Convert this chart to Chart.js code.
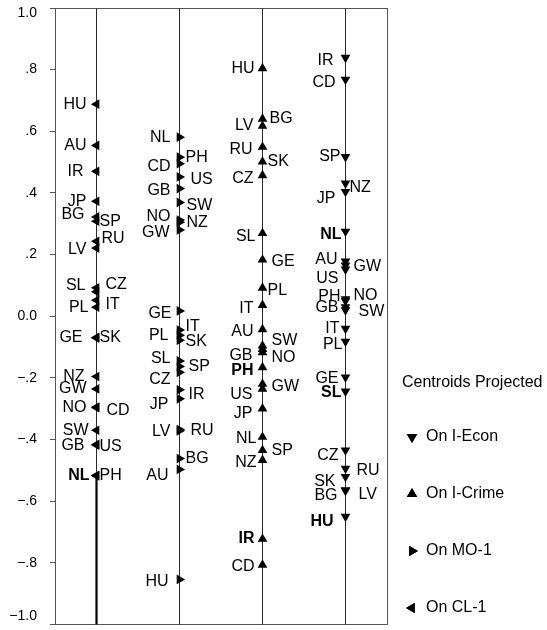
<!DOCTYPE html>
<html>
<head>
<meta charset="utf-8">
<script src="https://cdn.jsdelivr.net/npm/chart.js@4.4.1/dist/chart.umd.min.js"></script>
<style>
  html, body { margin: 0; padding: 0; background: #fff; overflow: hidden; }
  #chart { display: block; }
</style>
</head>
<body>
<canvas id="chart" width="547" height="630" style="width:547px;height:630px"></canvas>
<script>
// Four projection axes, left to right
const columns = ['CL-1', 'MO-1', 'I-Crime', 'I-Econ'];
const legendNames = ['On CL-1', 'On MO-1', 'On I-Crime', 'On I-Econ'];
const legendTitle = 'Centroids Projected';

const yTicks = [1.0, 0.8, 0.6, 0.4, 0.2, 0.0, -0.2, -0.4, -0.6, -0.8, -1.0];
const yTickLabels = ['1.0', '.8', '.6', '.4', '.2', '0.0', '\u2212.2', '\u2212.4', '\u2212.6', '\u2212.8', '\u22121.0'];

// CL-1
const clCodes = ['HU', 'AU', 'IR', 'JP', 'BG', 'SP', 'RU', 'LV', 'SL', 'CZ', 'IT', 'PL', 'GE', 'SK', 'NZ', 'GW', 'NO', 'CD', 'SW', 'GB', 'US', 'NL', 'PH'];
const clValues = [0.688, 0.554, 0.470, 0.373, 0.322, 0.308, 0.243, 0.221, 0.092, 0.079, 0.052, 0.029, -0.069, -0.071, -0.196, -0.236, -0.295, -0.297, -0.370, -0.416, -0.418, -0.516, -0.518];
const clBold = ['NL'];

// MO-1
const moCodes = ['NL', 'PH', 'CD', 'US', 'GB', 'SW', 'NO', 'NZ', 'GW', 'GE', 'IT', 'PL', 'SK', 'SL', 'SP', 'CZ', 'IR', 'JP', 'LV', 'RU', 'BG', 'AU', 'HU'];
const moValues = [0.581, 0.516, 0.495, 0.452, 0.414, 0.369, 0.312, 0.305, 0.280, 0.017, -0.045, -0.062, -0.078, -0.145, -0.163, -0.182, -0.239, -0.268, -0.368, -0.372, -0.462, -0.497, -0.854];
const moBold = [];

// I-Crime
const crimeCodes = ['HU', 'BG', 'LV', 'RU', 'SK', 'CZ', 'SL', 'GE', 'PL', 'IT', 'AU', 'SW', 'GB', 'NO', 'PH', 'GW', 'US', 'JP', 'NL', 'SP', 'NZ', 'IR', 'CD'];
const crimeValues = [0.804, 0.640, 0.617, 0.549, 0.501, 0.457, 0.269, 0.183, 0.092, 0.036, -0.043, -0.096, -0.107, -0.118, -0.166, -0.220, -0.236, -0.300, -0.392, -0.435, -0.467, -0.723, -0.807];
const crimeBold = ['PH', 'IR'];

// I-Econ
const econCodes = ['IR', 'CD', 'SP', 'NZ', 'JP', 'NL', 'AU', 'GW', 'US', 'PH', 'NO', 'GB', 'SW', 'IT', 'PL', 'GE', 'SL', 'CZ', 'RU', 'SK', 'BG', 'LV', 'HU'];
const econValues = [0.839, 0.768, 0.517, 0.431, 0.404, 0.275, 0.178, 0.165, 0.152, 0.056, 0.050, 0.030, 0.020, -0.040, -0.082, -0.198, -0.244, -0.435, -0.494, -0.521, -0.564, -0.566, -0.650];
const econBold = ['NL', 'SL', 'HU'];

// label placement next to each marker (negative dx = text on the left)
const clDx = [-10, -10, -13, -10, -12, 3, 5, -10, -11, 9, 9, -8, -14, 3, -12, -10, -10, 10, -8, -12, 3, -7, 3];
const clDy = [0, 0, 0, 0, -2, 0, -3, 2, -2, -7, 4, 0, 0, 0, 0, 0, 0, 3, 0, 1, 2, 0, 0];
const moDx = [-9, 6, -9, 11, -9, 7, -9, 7, -10, -8, 6, -11, 6, -9, 9, -9, 9, -11, -9, 11, 6, -11, -11];
const moDy = [0, 0, 3, 3, 2, 3, -3, 0, 3, 3, -3, 0, 1, -2, 0, 7, 5, 6, 2, 0, 0, 6, 2];
const crimeDx = [-8, 7, -9, -10, 5, -9, -7, 9, 5, -9, -9, 9, -10, 9, -9, 9, -10, -10, -6, 9, -6, -8, -8];
const crimeDy = [0, 0, 0, 3, 0, 3, 3, 2, 3, 3, 2, -5, 6, 5, 3, 3, 6, 5, 2, 0, 2, 0, 2];
const econDx = [-12, -10, -5, 4, -10, -4, -8, 8, -7, -5, 8, -7, 13, -6, -3, -7, -4, -7, 11, -10, -8, 13, -12];
const econDy = [3, 3, 0, 4, 7, 3, -2, 1, 9, -2, -5, 1, 2, 0, 3, 1, 1, 5, 2, 5, 6, 4, 5];

const FONT = '"Liberation Sans", Arial, Helvetica, sans-serif';

const groups = [
  { codes: clCodes, values: clValues, bold: clBold, dx: clDx, dy: clDy, rotation: 270 },
  { codes: moCodes, values: moValues, bold: moBold, dx: moDx, dy: moDy, rotation: 90 },
  { codes: crimeCodes, values: crimeValues, bold: crimeBold, dx: crimeDx, dy: crimeDy, rotation: 0 },
  { codes: econCodes, values: econValues, bold: econBold, dx: econDx, dy: econDy, rotation: 180 },
];

const pointSets = groups.map((g, k) => ({
  label: legendNames[k],
  data: g.values.map(v => ({ x: columns[k], y: v })),
  showLine: false,
  pointStyle: 'triangle',
  rotation: g.rotation,
  pointRadius: 5.6,
  pointBackgroundColor: '#000',
  pointBorderColor: '#000',
  pointBorderWidth: 0,
  order: 0,
}));

// the vertical axis line of every projection
const lineSets = columns.map(c => ({
  label: 'axis ' + c,
  data: [{ x: c, y: 1 }, { x: c, y: -1 }],
  showLine: true,
  borderColor: '#2a2a2a',
  borderWidth: 1,
  pointRadius: 0,
  order: 2,
}));
// CL-1 line is drawn heavier below NL
const nlLow = clValues[clCodes.indexOf('NL')];
lineSets.push({
  label: 'axis CL-1 low',
  data: [{ x: columns[0], y: nlLow }, { x: columns[0], y: -1 }],
  showLine: true,
  borderColor: '#000',
  borderWidth: 2.2,
  pointRadius: 0,
  order: 1,
});

const framePlugin = {
  id: 'frame',
  beforeDatasetsDraw(chart) {
    const { ctx, chartArea: a } = chart;
    ctx.save();
    ctx.strokeStyle = '#555';
    ctx.lineWidth = 1;
    ctx.strokeRect(Math.round(a.left) + 0.5, Math.round(a.top) + 0.5, Math.round(a.right - a.left), Math.round(a.bottom - a.top));
    ctx.restore();
  }
};

const yLabelPlugin = {
  id: 'yLabels',
  afterDraw(chart) {
    const { ctx, chartArea: a } = chart;
    const y = chart.scales.y;
    ctx.save();
    ctx.font = '14px ' + FONT;
    ctx.fillStyle = '#000';
    ctx.textAlign = 'right';
    ctx.textBaseline = 'middle';
    yTicks.forEach((v, i) => {
      let py = y.getPixelForValue(v);
      py = Math.min(Math.max(py, a.top + 5), a.bottom - 8);
      ctx.fillText(yTickLabels[i], a.left - 18, py);
    });
    ctx.restore();
  }
};

const pointLabelPlugin = {
  id: 'pointLabels',
  afterDatasetsDraw(chart) {
    const { ctx } = chart;
    ctx.save();
    ctx.fillStyle = '#000';
    ctx.textBaseline = 'middle';
    groups.forEach((g, k) => {
      const meta = chart.getDatasetMeta(k);
      meta.data.forEach((el, i) => {
        const code = g.codes[i];
        ctx.font = (g.bold.includes(code) ? 'bold ' : '') + '16px ' + FONT;
        ctx.textAlign = g.dx[i] < 0 ? 'right' : 'left';
        ctx.fillText(code, el.x + g.dx[i], el.y + g.dy[i]);
      });
    });
    ctx.restore();
  }
};

const legendPlugin = {
  id: 'sideLegend',
  afterDraw(chart) {
    const { ctx, chartArea: a } = chart;
    const x0 = a.right;
    ctx.save();
    ctx.fillStyle = '#000';
    ctx.textBaseline = 'middle';
    ctx.textAlign = 'left';
    ctx.font = '16px ' + FONT;
    ctx.fillText(legendTitle, x0 + 15, 383);
    // listed from I-Econ down to CL-1
    for (let n = 0; n < groups.length; n++) {
      const k = groups.length - 1 - n;
      const ds = chart.data.datasets[k];
      const yy = 437 + 57 * n;
      Chart.helpers.drawPoint(ctx, { pointStyle: 'triangle', rotation: ds.rotation, radius: 6, borderWidth: 0 }, x0 + 25, yy);
      ctx.fillStyle = '#000';
      ctx.fill();
      ctx.fillText(ds.label, x0 + 39, yy);
    }
    ctx.restore();
  }
};

new Chart(document.getElementById('chart'), {
  type: 'line',
  data: { labels: columns, datasets: [...pointSets, ...lineSets] },
  plugins: [framePlugin, pointLabelPlugin, yLabelPlugin, legendPlugin],
  options: {
    responsive: false,
    animation: false,
    layout: { padding: { left: 50, right: 160, top: 8, bottom: 2 } },
    plugins: { legend: { display: false }, tooltip: { enabled: false } },
    scales: {
      x: {
        type: 'category',
        offset: true,
        display: false,
      },
      y: {
        min: -1,
        max: 1,
        ticks: { display: false, stepSize: 0.2 },
        grid: { drawOnChartArea: false, drawTicks: true, tickLength: 5, color: '#555' },
        border: { display: true, color: '#555' },
      },
    },
  },
});
</script>
</body>
</html>
